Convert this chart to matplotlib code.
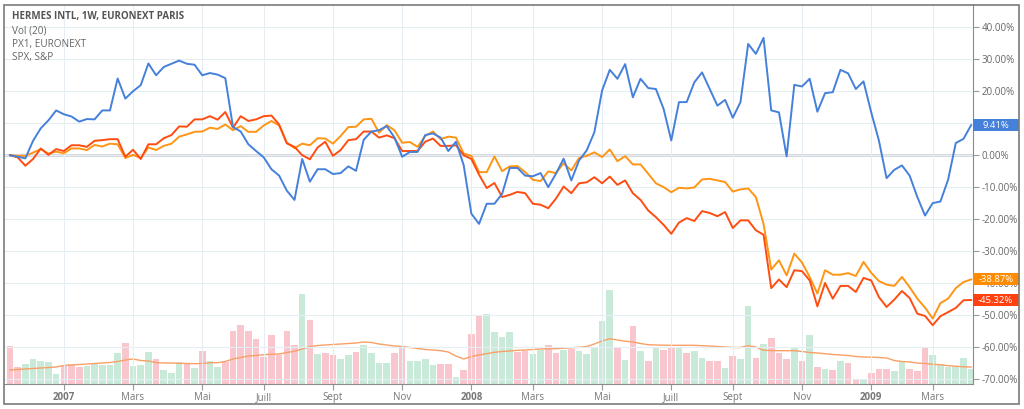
import matplotlib
matplotlib.use("Agg")
import numpy as np
import pandas as pd
import matplotlib.pyplot as plt
import matplotlib.transforms as mtransforms
from matplotlib.patches import Rectangle

plt.rcParams['font.family'] = ['Open Sans', 'DejaVu Sans']

# weekly closes, % change since first week
dates = pd.date_range('2006-11-13', periods=126, freq='W-MON')

hermes = [0, -0.5, -1, 4.5, 8.4, 10.9, 14, 12.8, 12.1, 10.5,
          11.3, 11.2, 14, 14, 24, 17.7, 20, 21.9, 28.7, 25,
          27.6, 28.6, 29.6, 28.6, 28.3, 25, 25.7, 25.2, 24.1, 8.8,
          7.4, 3.4, 1.3, -0.7, -4.4, -6.4, -11.1, -14, -1.2, -8.3,
          -4.4, -4.4, -5.9, -5.6, -3.5, -4.9, 4.8, 7.4, 7.8, 9.1,
          5.5, -0.5, 1, 1, 6.3, 6.8, 5.5, 1.3, 4.2, -3.1,
          -18.3, -21.5, -15.2, -15.2, -12.1, -4.0, -4.0, -6.4, -6.6, -5.6,
          -10, -5.8, -1.1, -7.9, -1.7, 1.5, 7.2, 20.2, 26.7, 23.9,
          28.5, 18.1, 23.9, 21, 20.7, 14.5, 4.6, 16.6, 16.6, 22.8,
          25.9, 20.7, 15.5, 17.3, 11.7, 16.6, 34.8, 31.7, 36.7, 14,
          13.4, -0.4, 22, 21.5, 23.9, 13.6, 19.4, 19.7, 26.7, 25.6,
          20.7, 23.1, 13.4, 4.6, -7.2, -4.6, -3.2, -6.4, -13.1, -18.9,
          -15, -14.5, -7.7, 3.8, 5.1, 9.41]

spx = [0, -0.2, -0.2, 0.8, 1.9, 0.5, 1.1, 0.6, 2.1, 2.1,
       1.6, 3.2, 2.7, 3.6, 3.4, -0.9, 0.1, -0.9, 2.4, 1.6,
       2.9, 3.6, 5.8, 6.5, 7.3, 7.4, 8.6, 8.2, 9.6, 7.8,
       9.1, 7.3, 7.3, 9.3, 10.7, 9.3, 3.9, 2.2, 3.6, 3.1,
       5.3, 5.2, 3.6, 6, 8.8, 8.9, 11.2, 11.4, 7, 9.4,
       7.8, 3.9, 4.1, 2.6, 6, 7.4, 5, 5.8, 5.5, 0.5,
       -0.2, -5.3, -5.3, -0.4, -5, -3.5, -3.4, -5.3, -7.7, -8.1,
       -5.1, -5.6, -2.5, -4.8, -0.9, -0.2, 0.9, -0.6, 1.8, -1.9,
       -0.3, -2.9, -2.9, -5.8, -8.8, -10, -11.6, -10.2, -10.4, -10.1,
       -7.6, -7.4, -7.9, -8.4, -11.4, -10.7, -10.4, -13.1, -21.5, -35.8,
       -32.9, -37.6, -30.8, -33.6, -38.1, -43.3, -36, -37.4, -37.4, -36.9,
       -37.8, -33.4, -36.8, -39.4, -40.5, -40.9, -38.1, -41.3, -44.9, -47.7,
       -51.1, -46.3, -44.9, -41.6, -39.7, -38.87]

px1 = [0, -0.7, -3.3, -1.2, 2.1, 0.1, 1.9, 1.3, 3.1, 3.1,
       2.6, 4.5, 4.7, 5, 5, -0.5, 1.7, -1.2, 3.4, 3.4,
       5.3, 6.3, 9, 8.9, 11.2, 11.2, 12.2, 11.1, 13.5, 8.6,
       12.2, 10.7, 11.2, 12.2, 12.4, 9.6, 3.7, 2.6, 0, -1.3,
       2.4, 4.2, -0.2, 1.6, 4.7, 5, 7.4, 7.4, 5.5, 6.2,
       5.3, 1.3, 1.3, 1.3, 4.2, 5.2, 2.9, 2.9, 3.1, 0,
       -1.2, -6.1, -10.3, -8.7, -13.1, -12.4, -11.5, -11.9, -15.2, -15.5,
       -16.6, -13.6, -9.8, -11.9, -8.8, -8.5, -6.9, -8.8, -6.7, -9.3,
       -7.9, -11.9, -14, -17.3, -19.4, -21.8, -24.6, -21.1, -19.7, -20.6,
       -17.5, -18.1, -19.1, -17.8, -22.8, -20.4, -20.4, -23.5, -24.9, -41.6,
       -38.9, -41.3, -36, -36.3, -39.2, -47.3, -40, -44.9, -40.9, -40.9,
       -42.8, -38.4, -39.2, -44.4, -47.5, -45.2, -42.5, -44.7, -49.6, -50.3,
       -53.2, -50.4, -49.1, -47.8, -45.4, -45.32]

# volume (relative units) and week direction (g = up, p = down)
volume = [38, 17, 20, 25, 23, 22, 10, 18, 20, 17,
          18, 21, 19, 19, 31, 41, 18, 19, 32, 25,
          14, 11, 22, 21, 16, 33, 23, 17, 22, 53,
          59, 53, 45, 27, 49, 29, 53, 39, 90, 64,
          30, 31, 29, 25, 29, 32, 39, 31, 21, 21,
          31, 38, 23, 23, 25, 19, 20, 20, 7, 14,
          50, 69, 70, 52, 47, 52, 32, 33, 30, 34,
          39, 31, 34, 35, 33, 30, 36, 63, 94, 36,
          24, 58, 33, 23, 36, 34, 36, 36, 31, 33,
          26, 23, 23, 16, 28, 25, 78, 26, 40, 46,
          31, 25, 37, 23, 49, 17, 15, 14, 23, 21,
          5, 5, 11, 15, 15, 13, 23, 15, 13, 36,
          29, 20, 17, 18, 26, 15]
vol_dir = "".join(["ppgggggppp", "gggggpgggp", "gggpgpggpp", "ppppppppgp",
                   "gppggpgggg", "ppggggppgp", "ppggggppgg", "ppgpgggggp",
                   "gpgpgppgpg", "gppgpggpgp", "ppgpgpgpgp", "pgpppggppp",
                   "gggggg"])

vol_ma = [14, 14.5, 15, 15.5, 16, 16.5, 17, 18.5, 19, 19.5,
          20, 20.5, 21, 21.5, 22.5, 24, 25, 23.5, 23, 21.5,
          21, 21, 20.7, 20.5, 20.3, 20.5, 21.3, 21.3, 22.5, 25,
          26.5, 28, 28.5, 29.3, 29.8, 30, 31.5, 32.7, 35, 37.5,
          38.5, 39, 39.5, 40, 40.5, 41, 42, 41.5, 40, 39,
          38, 37.5, 36.5, 35.5, 34.5, 34, 33.3, 32, 28, 25,
          27.5, 29, 30.3, 31.7, 32.5, 33, 33.7, 34, 34.5, 35,
          35.2, 35.3, 35.8, 36.3, 36.7, 37.5, 40, 43, 45.3, 44,
          42.8, 42, 40.5, 39.3, 39, 38.8, 38.7, 38.7, 38.7, 38.7,
          38.3, 38, 37.5, 37, 36.5, 36.5, 38.3, 37, 33.7, 33.5,
          33.3, 33.3, 33.3, 32.5, 31.5, 31, 30.3, 29.5, 29, 28.5,
          27.5, 27, 26.8, 26.5, 26, 23.5, 22.5, 22, 21, 20.5,
          19.7, 19.3, 18.3, 17.8, 17.2, 17]

tick_months = [(2007, 1, '2007'), (2007, 3, 'Mars'), (2007, 5, 'Mai'), (2007, 7, 'Juill'),
               (2007, 9, 'Sept'), (2007, 11, 'Nov'), (2008, 1, '2008'), (2008, 3, 'Mars'),
               (2008, 5, 'Mai'), (2008, 7, 'Juill'), (2008, 9, 'Sept'), (2008, 11, 'Nov'),
               (2009, 1, '2009'), (2009, 3, 'Mars')]

c_blue = '#4580db'
c_orange = '#ff9514'
c_red = '#ff4d12'

idx = np.arange(len(dates))
tick_pos = [int(np.where((dates.year == y) & (dates.month == m))[0][0]) for y, m, _ in tick_months]
tick_lab = [t for _, _, t in tick_months]

W, H = 1024, 409
fig = plt.figure(figsize=(W / 100, H / 100), dpi=100)
ax = fig.add_axes([4 / W, 25 / H, 968.7 / W, 380 / H])
ax2 = ax.twinx()

# volume pane (behind the price lines)
bar_cols = ['#c9ead9' if c == 'g' else '#f9c6ce' for c in vol_dir]
ax2.bar(idx, volume, width=0.86, color=bar_cols, zorder=1)
ax2.plot(idx, vol_ma, color='#f9a066', lw=1.0, zorder=2)
ax2.set_ylim(0, 380)
ax2.set_yticks([])
for s in ax2.spines.values():
    s.set_visible(False)

ax.set_zorder(ax2.get_zorder() + 1)
ax.patch.set_visible(False)

ax.axhline(0, color='#d4d4dc', lw=2, zorder=1.5)
ax.plot(idx, hermes, color=c_blue, lw=1.4, zorder=4)
ax.plot(idx, spx, color=c_orange, lw=1.4, zorder=3)
ax.plot(idx, px1, color=c_red, lw=1.4, zorder=3.5)

ax.set_xlim(-0.78, 125.2)
ax.set_ylim(-71.6, 47.3)
yt = np.arange(-70, 41, 10)
ax.yaxis.tick_right()
ax.set_yticks(yt)
# the 10% label sits under the last-value box of Hermes
ax.set_yticklabels(['' if v == 10 else '%.2f%%' % v for v in yt])
ax.set_xticks(tick_pos)
ax.set_xticklabels(tick_lab)
for lab, t in zip(ax.get_xticklabels(), tick_lab):
    if t.isdigit():
        lab.set_fontweight('bold')
        lab.set_color('#555555')
ax.tick_params(axis='y', length=4, color='#999999', labelcolor='#666666', labelsize=7, pad=2.5)
ax.tick_params(axis='x', length=4, color='#999999', labelcolor='#777777', labelsize=7, pad=2)
ax.grid(True, color='#e6eef4', lw=0.8, zorder=0)
ax.spines['left'].set_visible(False)
ax.spines['top'].set_visible(False)
ax.spines['right'].set_color('#8a8a8a')
ax.spines['bottom'].set_color('#8a8a8a')

# last-value labels on the price scale
blend = mtransforms.blended_transform_factory(ax.transAxes, ax.transData)
bw = 46 / 968.7
bh = 12 / 3.197
for val, col in [(hermes[-1], c_blue), (spx[-1], '#ff8c00'), (px1[-1], '#ff4010')]:
    ax.add_patch(Rectangle((1.0, val - bh / 2), bw, bh, transform=blend,
                           facecolor=col, edgecolor='none', clip_on=False, zorder=10))
    ax.text(1.0 + bw / 2, val, '%.2f%%' % val, transform=blend, ha='center', va='center',
            color='white', fontsize=6.8, clip_on=False, zorder=11)

# legend block
fig.text(12 / W, 1 - 17 / H, 'HERMES INTL, 1W, EURONEXT PARIS', fontsize=7,
         fontweight='bold', color='#555555', va='center')
for k, t in enumerate(['Vol (20)', 'PX1, EURONEXT', 'SPX, S&P']):
    fig.text(12 / W, 1 - (31 + 13.3 * k) / H, t, fontsize=7.2, color='#666666', va='center')

fig.patches.append(Rectangle((4 / W, 5 / H), 1015 / W, 399 / H, transform=fig.transFigure,
                             fill=False, edgecolor='#7a7a7a', lw=1.2))

fig.savefig('out.png', dpi=100)
